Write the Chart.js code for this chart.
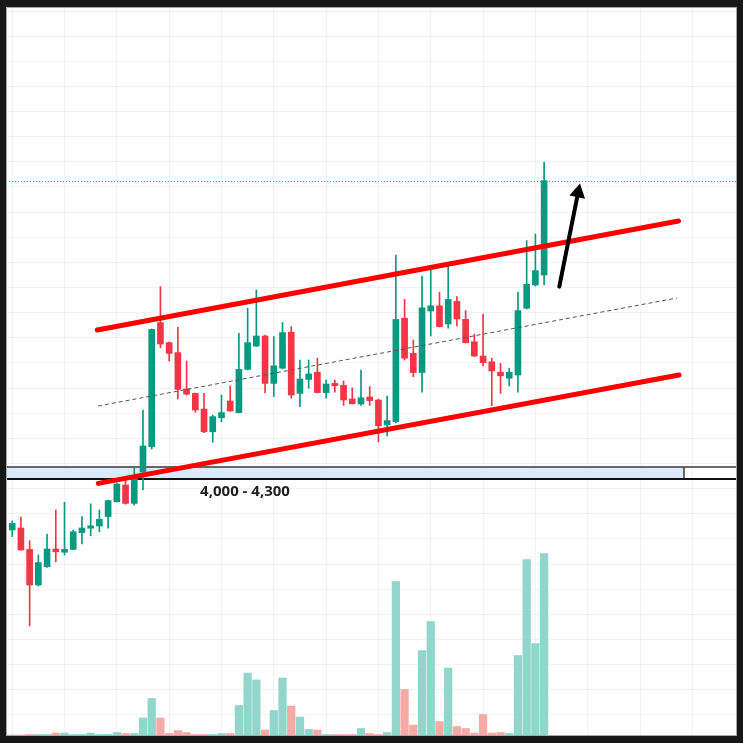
<!DOCTYPE html>
<html>
<head>
<meta charset="utf-8">
<script src="https://cdn.jsdelivr.net/npm/chart.js@4.4.1/dist/chart.umd.min.js"></script>
<style>
  html, body { margin: 0; padding: 0; background: #171717; }
  #wrap { width: 743px; height: 743px; }
</style>
</head>
<body>
<div id="wrap"><canvas id="chart" width="743" height="743"></canvas></div>
<script>
// Velas: apertura, máximo, mínimo, cierre
const opens  = [2650, 2725, 2775, 2240, 1350, 1810, 2250, 2170, 2240, 2660, 2770, 2825, 3060, 3430, 3850, 3390,
                4175, 4810, 7910, 7410, 7160, 6250, 6140, 5750, 5180, 5530, 5950, 5660, 6740, 7325, 7575, 6390,
                6770, 7670, 6140, 6490, 6670, 6160, 6390, 6340, 6000, 5875, 6050, 5975, 5350, 5430, 8020, 7140,
                6660, 8200, 8330, 7875, 8440, 7990, 7430, 7075, 6930, 6670, 6520, 6600, 8270, 8850, 9100];
const highs  = [2800, 2950, 3050, 2460, 2100, 2625, 3225, 3420, 2725, 3060, 3380, 3225, 3475, 3900, 3975, 4275,
                5725, 7750, 8810, 7425, 7790, 6950, 6150, 6140, 5600, 6100, 6325, 7640, 8270, 8725, 7600, 7560,
                7910, 7810, 6975, 6975, 7020, 6475, 6475, 6450, 6280, 6725, 6310, 6000, 6075, 9600, 8490, 7475,
                9075, 9225, 8670, 9310, 8560, 8210, 7625, 8125, 7020, 6890, 6770, 8670, 9960, 10125, 11920];
const lows   = [2600, 2560, 2220, 325, 1325, 1790, 1930, 2100, 2235, 2375, 2580, 2680, 2770, 3425, 3370, 3350,
                3725, 4750, 7280, 6950, 6000, 6100, 5670, 5160, 4920, 5430, 5690, 5650, 6725, 7310, 6160, 6060,
                6750, 6020, 5810, 6270, 6150, 6020, 6170, 5840, 5875, 5840, 5840, 4930, 5080, 5400, 6975, 6560,
                6170, 7575, 7800, 7770, 7825, 7400, 7060, 6825, 5830, 6140, 6325, 6170, 8250, 8825, 8850];
const closes = [2750, 2890, 2225, 1350, 1910, 2250, 2180, 2240, 2680, 2775, 2830, 2990, 3460, 3875, 3390, 4020,
                4825, 7740, 7375, 7140, 6240, 6120, 5725, 5180, 5560, 5660, 5700, 6740, 7410, 7575, 6390, 6830,
                7660, 6100, 6500, 6625, 6160, 6375, 6330, 5975, 5880, 6030, 5960, 5330, 5460, 7990, 7020, 6660,
                8280, 8330, 7810, 8490, 8000, 7410, 7075, 6910, 6700, 6580, 6670, 8210, 8870, 9210, 11460];
const volumes = [10, 10, 10, 15, 15, 15, 30, 30, 15, 15, 30, 15, 15, 35, 25, 25,
                 180, 375, 180, 25, 55, 35, 15, 15, 15, 25, 25, 305, 630, 560, 60, 255,
                 580, 300, 190, 65, 60, 15, 15, 15, 15, 75, 25, 15, 35, 1545, 465, 110,
                 855, 1145, 145, 680, 95, 75, 30, 215, 30, 35, 25, 805, 1765, 925, 1825];

// Canal alcista (índice de vela, precio)
const upperX = [10.76, 77.41];
const upperY = [7725, 10450];
const lowerX = [10.88, 77.47];
const lowerY = [3890, 6600];
const midX = [10.84, 77.24];
const midY = [5825, 8525];

// Flecha
const arrowX = [63.74, 66.11];
const arrowY = [8810, 11390];

// Zona de soporte
const zoneLow = 4000;
const zoneHigh = 4300;
const zoneEndX = 78.04;
const zoneLabel = '4,000 - 4,300';
const zoneLabelX = 27.7;
const zoneLabelY = 3690;

// Colores
const upColor = '#089981';
const downColor = '#f23645';
const volUpColor = '#92d5cb';
const volDownColor = '#f8aaa7';

const idx = opens.map((_, i) => i);
const isUp = idx.map(i => closes[i] >= opens[i]);
const candleColors = isUp.map(u => u ? upColor : downColor);
const volumeColors = isUp.map(u => u ? volUpColor : volDownColor);
const lastClose = closes[closes.length - 1];

const toPoints = (xs, ys) => xs.map((x, i) => ({ x: x, y: ys[i] }));

const backgroundPlugin = {
  id: 'fondo',
  beforeDraw(chart) {
    const { ctx, chartArea: a } = chart;
    ctx.save();
    ctx.fillStyle = '#171717';
    ctx.fillRect(0, 0, chart.width, chart.height);
    ctx.fillStyle = '#ffffff';
    ctx.fillRect(a.left, a.top, a.right - a.left, a.bottom - a.top);
    ctx.restore();
  },
  beforeDatasetsDraw(chart) {
    const { ctx, chartArea: a, scales } = chart;
    const x = scales.x, y = scales.y;
    const yTop = y.getPixelForValue(zoneHigh);
    const yBot = y.getPixelForValue(zoneLow);
    const xEnd = x.getPixelForValue(zoneEndX);
    ctx.save();
    // zona
    ctx.fillStyle = '#dcebfb';
    ctx.fillRect(a.left, yTop, xEnd - a.left, yBot - yTop);
    ctx.strokeStyle = '#3a3a3a';
    ctx.lineWidth = 1.5;
    ctx.beginPath();
    ctx.moveTo(a.left, yTop);
    ctx.lineTo(a.right, yTop);
    ctx.moveTo(xEnd, yTop);
    ctx.lineTo(xEnd, yBot);
    ctx.stroke();
    ctx.strokeStyle = '#111111';
    ctx.lineWidth = 2;
    ctx.beginPath();
    ctx.moveTo(a.left, yBot);
    ctx.lineTo(a.right, yBot);
    ctx.stroke();
    // línea del último precio
    const yLast = Math.round(y.getPixelForValue(lastClose)) + 0.5;
    ctx.strokeStyle = '#2bab96';
    ctx.lineWidth = 1;
    ctx.setLineDash([1, 2]);
    ctx.beginPath();
    ctx.moveTo(a.left, yLast);
    ctx.lineTo(a.right, yLast);
    ctx.stroke();
    ctx.restore();
  },
  afterDatasetsDraw(chart) {
    const { ctx, scales } = chart;
    const x = scales.x, y = scales.y;
    ctx.save();
    // flecha
    const x0 = x.getPixelForValue(arrowX[0]), y0 = y.getPixelForValue(arrowY[0]);
    const x1 = x.getPixelForValue(arrowX[1]), y1 = y.getPixelForValue(arrowY[1]);
    const len = Math.hypot(x1 - x0, y1 - y0);
    const ux = (x1 - x0) / len, uy = (y1 - y0) / len;
    const headLen = 14, headHalf = 8;
    const bx = x1 - ux * headLen, by = y1 - uy * headLen;
    ctx.strokeStyle = '#000000';
    ctx.lineWidth = 4;
    ctx.lineCap = 'round';
    ctx.beginPath();
    ctx.moveTo(x0, y0);
    ctx.lineTo(bx + ux * 2, by + uy * 2);
    ctx.stroke();
    ctx.fillStyle = '#000000';
    ctx.beginPath();
    ctx.moveTo(x1, y1);
    ctx.lineTo(bx - uy * headHalf, by + ux * headHalf);
    ctx.lineTo(bx + uy * headHalf, by - ux * headHalf);
    ctx.closePath();
    ctx.fill();
    // etiqueta de la zona
    ctx.fillStyle = '#1e1e1e';
    ctx.font = 'bold 15px "Open Sans"';
    ctx.textAlign = 'center';
    ctx.textBaseline = 'middle';
    ctx.fillText(zoneLabel, x.getPixelForValue(zoneLabelX), y.getPixelForValue(zoneLabelY));
    ctx.restore();
  },
  afterDraw(chart) {
    const { ctx, chartArea: a } = chart;
    ctx.save();
    ctx.strokeStyle = '#a8a8a8';
    ctx.lineWidth = 1;
    ctx.strokeRect(a.left + 0.5, a.top + 0.5, a.right - a.left - 1, a.bottom - a.top - 1);
    ctx.restore();
  }
};

const gridColor = 'rgba(42, 46, 57, 0.06)';

new Chart(document.getElementById('chart'), {
  type: 'bar',
  data: {
    datasets: [
      {
        label: 'Volumen',
        data: idx.map(i => ({ x: i, y: volumes[i] })),
        yAxisID: 'yv',
        backgroundColor: volumeColors,
        barThickness: 7.6,
        grouped: false,
        clip: 0,
        order: 10
      },
      {
        label: 'Mechas',
        data: idx.map(i => ({ x: i, y: [lows[i], highs[i]] })),
        backgroundColor: candleColors,
        barThickness: 1,
        grouped: false,
        clip: 0,
        order: 5
      },
      {
        label: 'Cuerpos',
        data: idx.map(i => ({ x: i, y: [opens[i], closes[i]] })),
        backgroundColor: candleColors,
        barThickness: 6,
        minBarLength: 1,
        grouped: false,
        clip: 0,
        order: 4
      },
      {
        type: 'line',
        label: 'Media',
        data: toPoints(midX, midY),
        borderColor: '#555555',
        borderWidth: 1,
        borderDash: [4, 3],
        pointRadius: 0,
        order: 3
      },
      {
        type: 'line',
        label: 'Resistencia',
        data: toPoints(upperX, upperY),
        borderColor: '#ff0000',
        borderWidth: 5,
        borderCapStyle: 'round',
        pointRadius: 0,
        order: 2
      },
      {
        type: 'line',
        label: 'Soporte',
        data: toPoints(lowerX, lowerY),
        borderColor: '#ff0000',
        borderWidth: 5,
        borderCapStyle: 'round',
        pointRadius: 0,
        order: 2
      }
    ]
  },
  options: {
    responsive: false,
    animation: false,
    layout: { padding: { left: 6, right: 6, top: 7, bottom: 7 } },
    plugins: {
      legend: { display: false },
      tooltip: { enabled: false }
    },
    scales: {
      x: {
        type: 'linear',
        min: 0.29,
        max: 84.12,
        offset: false,
        ticks: { display: false },
        grid: { color: gridColor, drawTicks: false, offset: false },
        border: { display: false },
        afterBuildTicks: axis => {
          const t = [];
          for (let v = 1; v < 84; v += 6) t.push({ value: v });
          axis.ticks = t;
        }
      },
      y: {
        min: -2425,
        max: 15800,
        ticks: { display: false },
        grid: { color: gridColor, drawTicks: false },
        border: { display: false },
        afterBuildTicks: axis => {
          const t = [];
          for (let v = 15700; v > -2425; v -= 628.5) t.push({ value: v });
          axis.ticks = t;
        }
      },
      yv: {
        display: false,
        min: 0,
        max: 7290
      }
    }
  },
  plugins: [backgroundPlugin]
});
</script>
</body>
</html>
